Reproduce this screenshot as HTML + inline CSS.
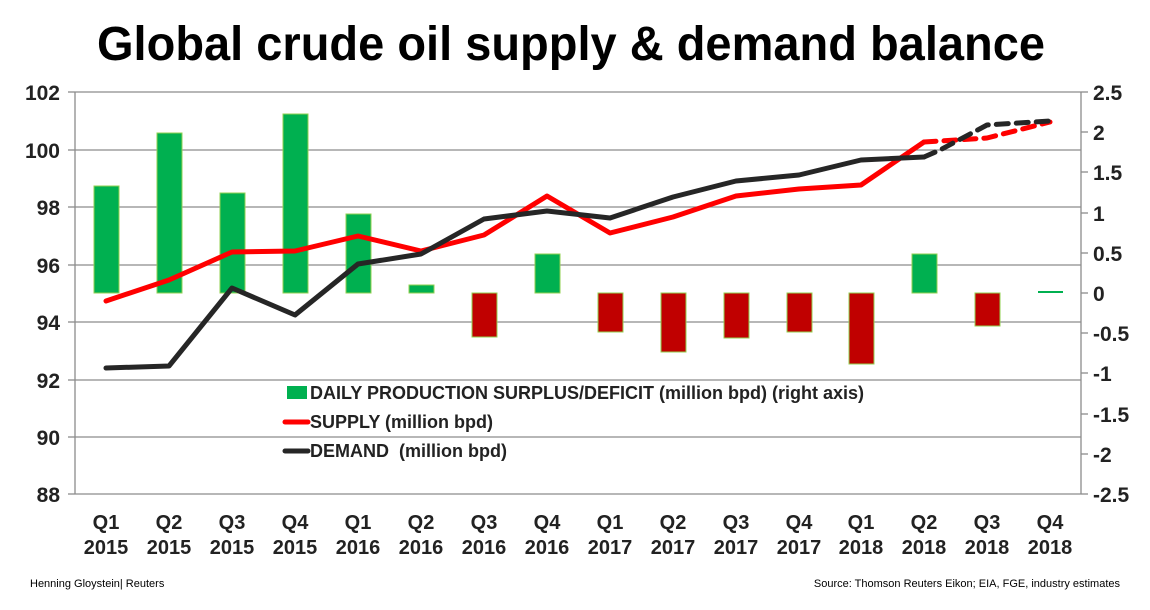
<!DOCTYPE html>
<html><head><meta charset="utf-8"><style>
body{margin:0;background:#fff;}
svg text{font-family:"Liberation Sans",Arial,sans-serif;}
</style></head><body>
<svg width="1150" height="605" viewBox="0 0 1150 605" xmlns="http://www.w3.org/2000/svg">
<text x="97" y="60" font-size="48" font-weight="bold" fill="#000" textLength="948" lengthAdjust="spacingAndGlyphs">Global crude oil supply &amp; demand balance</text>
<g stroke="#8c8c8c" stroke-width="1.3">
<line x1="75" y1="92" x2="1081" y2="92"/>
<line x1="75" y1="150" x2="1081" y2="150"/>
<line x1="75" y1="207" x2="1081" y2="207"/>
<line x1="75" y1="265" x2="1081" y2="265"/>
<line x1="75" y1="322" x2="1081" y2="322"/>
<line x1="75" y1="380" x2="1081" y2="380"/>
<line x1="75" y1="437" x2="1081" y2="437"/>
<line x1="75" y1="494" x2="1081" y2="494"/>
<line x1="75" y1="92" x2="75" y2="494"/>
<line x1="1081" y1="92" x2="1081" y2="494"/>
<line x1="68" y1="92" x2="75" y2="92"/><line x1="68" y1="150" x2="75" y2="150"/><line x1="68" y1="207" x2="75" y2="207"/><line x1="68" y1="265" x2="75" y2="265"/><line x1="68" y1="322" x2="75" y2="322"/><line x1="68" y1="380" x2="75" y2="380"/><line x1="68" y1="437" x2="75" y2="437"/><line x1="68" y1="494" x2="75" y2="494"/>
<line x1="1081" y1="92" x2="1088" y2="92"/><line x1="1081" y1="132" x2="1088" y2="132"/><line x1="1081" y1="172" x2="1088" y2="172"/><line x1="1081" y1="213" x2="1088" y2="213"/><line x1="1081" y1="253" x2="1088" y2="253"/><line x1="1081" y1="293" x2="1088" y2="293"/><line x1="1081" y1="333" x2="1088" y2="333"/><line x1="1081" y1="373" x2="1088" y2="373"/><line x1="1081" y1="414" x2="1088" y2="414"/><line x1="1081" y1="454" x2="1088" y2="454"/><line x1="1081" y1="494" x2="1088" y2="494"/>
</g>
<g font-size="21" font-weight="bold" fill="#222" text-anchor="end">
<text x="60" y="100">102</text><text x="60" y="158">100</text><text x="60" y="215">98</text><text x="60" y="273">96</text><text x="60" y="330">94</text><text x="60" y="388">92</text><text x="60" y="445">90</text><text x="60" y="502">88</text>
</g>
<g font-size="21" font-weight="bold" fill="#222" text-anchor="start">
<text x="1093" y="100">2.5</text><text x="1093" y="140">2</text><text x="1093" y="180">1.5</text><text x="1093" y="221">1</text><text x="1093" y="261">0.5</text><text x="1093" y="301">0</text><text x="1093" y="341">-0.5</text><text x="1093" y="381">-1</text><text x="1093" y="422">-1.5</text><text x="1093" y="462">-2</text><text x="1093" y="502">-2.5</text>
</g>
<g stroke="#92d050" stroke-width="1">
<rect x="94" y="186" width="25" height="107" fill="#00b050"/>
<rect x="157" y="133" width="25" height="160" fill="#00b050"/>
<rect x="220" y="193" width="25" height="100" fill="#00b050"/>
<rect x="283" y="114" width="25" height="179" fill="#00b050"/>
<rect x="346" y="214" width="25" height="79" fill="#00b050"/>
<rect x="409" y="285" width="25" height="8" fill="#00b050"/>
<rect x="472" y="293" width="25" height="44" fill="#c00000"/>
<rect x="535" y="254" width="25" height="39" fill="#00b050"/>
<rect x="598" y="293" width="25" height="39" fill="#c00000"/>
<rect x="661" y="293" width="25" height="59" fill="#c00000"/>
<rect x="724" y="293" width="25" height="45" fill="#c00000"/>
<rect x="787" y="293" width="25" height="39" fill="#c00000"/>
<rect x="849" y="293" width="25" height="71" fill="#c00000"/>
<rect x="912" y="254" width="25" height="39" fill="#00b050"/>
<rect x="975" y="293" width="25" height="33" fill="#c00000"/>
<line x1="1038" y1="292" x2="1063" y2="292" stroke="#00b050" stroke-width="2"/>
</g>
<g fill="none" stroke-width="5" stroke-linejoin="round" stroke-linecap="round">
<polyline stroke="#ff0000" points="106,301 169,280 232,252 295,251 358,236 421,251 484,235 547,196 610,233 673,217 736,196 799,189 861,185 924,142"/>
<polyline stroke="#ff0000" stroke-dasharray="12,8" points="924,142 987,138 1050,122"/>
<polyline stroke="#262626" points="106,368 169,366 232,288 295,315 358,264 421,254 484,219 547,211 610,218 673,197 736,181 799,175 861,160 924,157"/>
<polyline stroke="#262626" stroke-dasharray="12,8" points="924,157 940,150 987,125 1050,121"/>
</g>
<rect x="287" y="386" width="20" height="13" fill="#00b050"/>
<line x1="285" y1="422" x2="308" y2="422" stroke="#ff0000" stroke-width="5" stroke-linecap="round"/>
<line x1="285" y1="451" x2="308" y2="451" stroke="#262626" stroke-width="5" stroke-linecap="round"/>
<g font-size="18" font-weight="bold" fill="#222">
<text x="310" y="399">DAILY PRODUCTION SURPLUS/DEFICIT (million bpd) (right axis)</text>
<text x="310" y="428">SUPPLY (million bpd)</text>
<text x="310" y="457">DEMAND&#160; (million bpd)</text>
</g>
<g font-size="20" font-weight="bold" fill="#222" text-anchor="middle">
<text x="106" y="529">Q1</text><text x="106" y="554">2015</text>
<text x="169" y="529">Q2</text><text x="169" y="554">2015</text>
<text x="232" y="529">Q3</text><text x="232" y="554">2015</text>
<text x="295" y="529">Q4</text><text x="295" y="554">2015</text>
<text x="358" y="529">Q1</text><text x="358" y="554">2016</text>
<text x="421" y="529">Q2</text><text x="421" y="554">2016</text>
<text x="484" y="529">Q3</text><text x="484" y="554">2016</text>
<text x="547" y="529">Q4</text><text x="547" y="554">2016</text>
<text x="610" y="529">Q1</text><text x="610" y="554">2017</text>
<text x="673" y="529">Q2</text><text x="673" y="554">2017</text>
<text x="736" y="529">Q3</text><text x="736" y="554">2017</text>
<text x="799" y="529">Q4</text><text x="799" y="554">2017</text>
<text x="861" y="529">Q1</text><text x="861" y="554">2018</text>
<text x="924" y="529">Q2</text><text x="924" y="554">2018</text>
<text x="987" y="529">Q3</text><text x="987" y="554">2018</text>
<text x="1050" y="529">Q4</text><text x="1050" y="554">2018</text>
</g>
<text x="30" y="587" font-size="11" fill="#000">Henning Gloystein| Reuters</text>
<text x="1120" y="587" font-size="11" fill="#000" text-anchor="end">Source: Thomson Reuters Eikon; EIA, FGE, industry estimates</text>
</svg>
</body></html>
